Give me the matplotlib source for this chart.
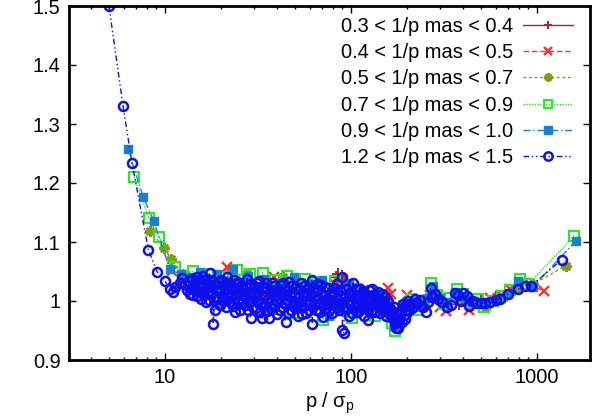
import matplotlib
matplotlib.use("Agg")
import matplotlib.pyplot as plt
from matplotlib.ticker import FixedLocator, FuncFormatter, NullFormatter

plt.rcParams['font.family'] = ['Liberation Sans', 'DejaVu Sans']
plt.rcParams['mathtext.fontset'] = 'custom'
plt.rcParams['mathtext.rm'] = 'Liberation Sans'

# ---- data ----
labels = [
    "0.3 < 1/p mas < 0.4",
    "0.4 < 1/p mas < 0.5",
    "0.5 < 1/p mas < 0.7",
    "0.7 < 1/p mas < 0.9",
    "0.9 < 1/p mas < 1.0",
    "1.2 < 1/p mas < 1.5",
]

darkred_x = [13.8, 15.5, 17.5, 21.0, 26.0, 32.0, 40.0, 50.0, 62.0, 72.0,
             83.0, 85.0, 87.0, 89.5, 93.0, 100.0, 115.0, 140.0, 160.0, 172.0,
             190.0, 230.0, 290.0, 380.0, 500.0, 600.0, 680.0, 780.0]
darkred_y = [1.022, 1.021, 1.005, 1.000, 1.015, 0.995, 1.010, 1.000, 1.012, 0.995,
             1.041, 1.045, 1.030, 1.043, 1.035, 1.010, 1.000, 1.014, 0.990, 0.965,
             0.985, 1.000, 1.005, 0.995, 1.000, 1.007, 1.010, 1.020]

red_x = [10.9, 13.5, 15.0, 16.5, 18.0, 19.8, 21.5, 23.5, 26.0, 29.0,
         32.5, 36.0, 38.5, 43.0, 49.8, 55.0, 62.0, 69.5, 75.0, 82.0,
         86.5, 90.0, 96.0, 105.0, 115.0, 130.0, 145.0, 158.0, 165.0, 170.0,
         180.0, 200.0, 230.0, 265.0, 300.0, 324.0, 380.0, 430.0, 480.0, 560.0,
         640.0, 720.0, 850.0, 1094.0]
red_y = [1.051, 1.019, 1.025, 1.010, 1.030, 1.015, 1.058, 1.020, 1.035, 1.005,
         1.025, 1.000, 1.040, 1.010, 1.030, 1.000, 1.020, 1.019, 0.995, 1.028,
         1.030, 1.025, 1.005, 1.020, 0.990, 1.010, 1.000, 1.022, 1.012, 0.975,
         0.985, 1.010, 0.995, 1.010, 0.990, 0.983, 1.005, 0.985, 1.000, 1.005,
         1.010, 1.020, 1.030, 1.017]

olive_x = [8.3, 9.94, 10.8, 12.5, 14.5, 17.0, 20.0, 23.5, 27.5, 32.0,
           37.0, 43.0, 50.0, 58.0, 67.0, 78.0, 90.0, 105.0, 122.0, 142.0,
           165.0, 175.0, 195.0, 230.0, 270.0, 320.0, 380.0, 450.0, 530.0, 650.0,
           780.0, 950.0, 1432.0]
olive_y = [1.119, 1.089, 1.071, 1.045, 1.030, 1.020, 1.035, 1.010, 1.046, 1.000,
           1.025, 1.040, 0.995, 1.020, 1.000, 1.015, 0.985, 1.005, 0.990, 1.000,
           0.975, 0.960, 0.990, 1.000, 1.020, 0.995, 1.005, 0.995, 0.990, 1.005,
           1.020, 1.028, 1.060]

green_x = [6.84, 8.2, 9.34, 11.4, 12.6, 14.2, 15.5, 17.0, 18.6, 20.5,
           22.6, 24.4, 26.5, 28.7, 31.0, 33.5, 36.3, 39.2, 42.0, 45.5,
           49.0, 53.0, 57.0, 61.5, 66.0, 71.0, 76.0, 82.0, 88.0, 94.0,
           101.0, 108.0, 116.0, 125.0, 134.0, 144.0, 155.0, 166.0, 172.0, 180.0,
           194.0, 210.0, 228.0, 248.0, 268.0, 290.0, 315.0, 340.0, 370.0, 400.0,
           440.0, 480.0, 520.0, 580.0, 650.0, 720.0, 807.0, 900.0, 1585.0]
green_y = [1.210, 1.140, 1.108, 1.057, 1.040, 1.051, 1.030, 1.045, 1.010, 1.040,
           1.020, 1.052, 1.000, 1.045, 1.015, 1.048, 0.990, 1.035, 1.012, 1.042,
           0.980, 1.025, 1.038, 0.995, 1.030, 0.968, 1.015, 1.034, 0.990, 1.025,
           0.972, 1.020, 0.995, 1.015, 0.975, 1.008, 0.990, 0.962, 0.950, 0.970,
           0.992, 1.003, 0.985, 1.000, 1.030, 1.010, 0.995, 1.005, 1.020, 1.012,
           0.998, 1.004, 0.990, 1.000, 1.008, 1.018, 1.037, 1.028, 1.111]

steel_x = [6.32, 7.65, 8.7, 10.6, 12.2, 13.8, 15.5, 17.3, 19.0, 21.0,
           23.2, 25.5, 28.0, 30.8, 34.0, 37.5, 41.0, 45.0, 49.5, 54.0,
           59.0, 64.5, 70.0, 76.5, 83.0, 90.0, 98.0, 106.0, 115.0, 125.0,
           136.0, 148.0, 160.0, 170.0, 182.0, 198.0, 215.0, 235.0, 255.0, 275.0,
           300.0, 330.0, 365.0, 410.0, 460.0, 520.0, 600.0, 700.0, 789.0, 950.0,
           1625.0]
steel_y = [1.258, 1.176, 1.136, 1.055, 1.045, 1.040, 1.050, 1.030, 1.045, 1.015,
           1.055, 1.025, 1.042, 1.005, 1.038, 0.985, 1.030, 1.010, 1.040, 0.990,
           1.028, 1.002, 1.035, 0.975, 1.020, 0.995, 1.030, 0.980, 1.015, 0.990,
           1.010, 0.985, 0.975, 0.958, 0.975, 0.995, 1.000, 0.990, 1.005, 1.025,
           1.005, 0.998, 1.015, 1.005, 1.000, 0.995, 1.002, 1.012, 1.034, 1.024,
           1.102]

blue_x = [5.0, 5.95, 6.65, 8.15, 9.1, 10.0, 10.6, 11.0, 11.4, 12.0,
          12.3, 12.8, 13.1, 13.5, 13.9, 14.2, 14.6, 14.9, 15.2, 15.6,
          15.9, 16.3, 16.7, 17.0, 17.4, 17.8, 18.2, 18.5, 18.7, 19.1,
          19.5, 19.9, 20.3, 20.8, 21.2, 21.6, 22.0, 22.5, 23.0, 23.4,
          23.9, 24.4, 24.9, 25.3, 25.9, 26.4, 27.0, 27.6, 28.2, 28.9,
          29.5, 30.2, 30.8, 31.5, 32.2, 32.9, 33.3, 34.0, 34.8, 35.5,
          36.4, 36.8, 37.6, 38.4, 39.3, 40.1, 41.0, 41.9, 42.8, 43.7,
          44.5, 45.5, 46.5, 47.5, 48.5, 49.6, 50.7, 51.8, 52.9, 54.1,
          55.3, 56.5, 57.7, 59.0, 60.3, 61.6, 62.0, 63.4, 64.8, 66.2,
          67.7, 69.2, 70.7, 72.2, 73.8, 75.4, 77.1, 78.8, 80.5, 82.3,
          84.1, 86.0, 87.9, 89.8, 90.0, 91.6, 92.0, 94.0, 96.1, 98.2,
          100.4, 102.6, 104.9, 107.2, 109.6, 112.0, 114.5, 117.0, 119.6, 122.3,
          123.0, 125.0, 127.8, 130.6, 133.5, 136.5, 139.5, 142.6, 145.8, 149.0,
          152.3, 155.7, 159.1, 162.6, 166.2, 170.0, 173.7, 175.0, 177.6, 179.0,
          181.5, 185.5, 189.6, 195.0, 199.0, 204.0, 209.0, 214.0, 220.0, 226.0,
          235.0, 243.0, 252.0, 260.0, 270.0, 274.0, 282.0, 295.0, 310.0, 327.0,
          345.0, 361.0, 375.0, 390.0, 403.0, 420.0, 432.0, 450.0, 470.0, 500.0,
          523.0, 560.0, 600.0, 631.0, 700.0, 789.0, 860.0, 934.0, 1362.0]
blue_y = [1.500, 1.331, 1.234, 1.087, 1.049, 1.034, 1.020, 1.016, 1.024, 1.031,
          1.039, 1.028, 1.018, 1.034, 1.022, 1.010, 1.030, 1.041, 1.016, 1.004,
          1.026, 1.035, 0.998, 1.012, 1.047, 1.024, 0.961, 1.006, 0.985, 1.019,
          1.032, 0.994, 1.008, 1.027, 0.990, 1.041, 1.015, 0.998, 1.022, 1.036,
          0.982, 1.010, 1.030, 0.985, 1.004, 1.020, 0.993, 1.038, 1.012, 0.972,
          1.000, 1.026, 0.988, 1.015, 1.034, 0.996, 0.971, 1.008, 1.022, 0.983,
          0.972, 1.012, 1.030, 0.995, 1.018, 0.978, 1.004, 1.027, 0.990, 1.012,
          0.965, 1.001, 1.033, 0.985, 1.016, 0.998, 1.024, 0.975, 1.008, 1.030,
          0.990, 1.014, 0.980, 1.021, 0.997, 1.035, 0.961, 1.006, 0.985, 1.018,
          0.995, 1.027, 0.973, 1.010, 0.988, 1.022, 1.002, 0.979, 1.016, 0.995,
          1.028, 0.984, 1.008, 1.040, 0.951, 0.946, 0.990, 1.020, 0.998, 0.975,
          1.012, 1.030, 0.990, 1.008, 0.982, 1.020, 1.000, 0.975, 1.012, 0.993,
          0.968, 1.018, 1.003, 0.985, 1.010, 0.996, 1.015, 0.988, 1.002, 0.992,
          1.006, 0.985, 0.998, 0.980, 0.972, 0.990, 0.966, 0.955, 0.972, 0.954,
          0.968, 0.984, 0.995, 0.970, 0.985, 1.000, 0.992, 0.988, 1.004, 0.996,
          1.002, 0.990, 0.982, 0.998, 1.022, 1.007, 1.012, 1.003, 0.998, 0.990,
          0.993, 1.013, 1.011, 1.000, 1.013, 1.008, 0.992, 1.000, 0.997, 0.996,
          0.997, 0.999, 1.002, 1.003, 1.012, 1.020, 1.025, 1.026, 1.070]

# more points of the same bin inside the dense cloud
blue_extra_x = [13.3, 13.7, 14.0, 14.4, 14.8, 15.4, 15.8, 16.1, 16.5, 16.9,
                17.2, 17.6, 18.0, 18.9, 19.3, 19.7, 20.1, 20.6, 21.0, 21.4,
                21.8, 22.3, 22.8, 23.2, 23.7, 24.1, 24.6, 25.1, 25.6, 26.1,
                26.7, 27.3, 27.9, 28.5, 29.2, 29.8, 30.5, 31.1, 31.8, 32.5,
                33.6, 34.4, 35.1, 35.9, 37.2, 38.0, 38.8, 39.7, 40.5, 41.4,
                42.3, 43.2, 44.1, 45.0, 46.0, 47.0, 48.0, 49.0, 50.1, 51.2,
                52.3, 53.5, 54.7, 55.9, 57.1, 58.3, 59.6, 61.0, 62.7, 64.1,
                65.5, 66.9, 68.4, 69.9, 71.4, 73.0, 74.6, 76.2, 77.9, 79.6,
                81.4, 83.2, 85.0, 86.9, 88.8, 93.0, 95.0, 97.1, 99.3, 101.5,
                103.7, 106.0, 108.4, 110.8, 113.2, 115.7, 118.3, 121.0, 124.0, 126.4,
                129.2, 132.0, 135.0, 138.0, 141.0, 144.2, 147.4, 150.6, 154.0, 157.4,
                161.0, 164.4, 168.0, 171.8, 183.5, 187.5, 192.0, 197.0, 201.5, 206.5]
blue_extra_y = [1.026, 1.012, 1.038, 1.020, 1.008, 1.028, 1.015, 1.042, 1.020, 1.030,
                1.002, 1.036, 1.014, 1.028, 1.004, 1.020, 1.036, 1.000, 1.018, 1.030,
                1.006, 1.028, 1.010, 0.992, 1.020, 1.030, 1.000, 1.016, 1.026, 0.996,
                1.010, 1.024, 0.984, 1.028, 1.008, 0.990, 1.014, 1.030, 1.000, 0.982,
                1.024, 0.994, 1.030, 1.004, 0.988, 1.016, 1.025, 1.002, 1.020, 0.985,
                1.010, 1.030, 0.995, 1.018, 0.980, 1.010, 1.025, 0.992, 1.008, 0.990,
                1.020, 0.998, 0.978, 1.025, 1.000, 1.010, 0.985, 1.012, 1.020, 0.995,
                1.028, 1.005, 0.982, 1.012, 0.994, 1.024, 1.000, 0.985, 1.014, 0.995,
                1.022, 1.004, 0.990, 1.018, 0.998, 1.006, 0.988, 1.014, 0.995, 0.980,
                1.005, 1.020, 0.995, 1.010, 0.990, 1.015, 0.988, 1.005, 0.985, 1.008,
                1.020, 0.995, 0.982, 1.005, 1.000, 0.980, 1.012, 0.996, 0.975, 1.000,
                0.990, 0.985, 0.976, 0.962, 0.978, 0.965, 0.990, 0.978, 0.995, 0.985]

xticks = [10, 100, 1000]
yticks = [0.9, 1.0, 1.1, 1.2, 1.3, 1.4, 1.5]

# merge the blue bin and keep it in x order (gnuplot joins points in file order)
blue_pts = sorted(zip(blue_x + blue_extra_x, blue_y + blue_extra_y))
blue_all_x = [p[0] for p in blue_pts]
blue_all_y = [p[1] for p in blue_pts]

# ---- styles (gnuplot-like) ----
styles = [
    dict(color="#a02828", marker="+", ms=9, mew=1.4, ls="-"),
    dict(color="#ff3030", marker="x", ms=6.5, mew=1.7, ls=(0, (4, 2))),
    dict(color="#7f9f10", marker=(8, 2, 0), ms=7.5, mew=1.8, ls=(0, (2, 2))),
    dict(color="#22ee22", marker="s", ms=7, mew=1.5, mfc="none", ls=(0, (1, 1))),
    dict(color="#1a80d0", marker="s", ms=6, mew=1.0, ls=(0, (5, 2, 1, 2))),
    dict(color="#1010ee", marker="o", ms=6.5, mew=1.8, mfc="none", ls=(0, (4, 2, 1, 2, 1, 2))),
]
series = [(darkred_x, darkred_y), (red_x, red_y), (olive_x, olive_y),
          (green_x, green_y), (steel_x, steel_y), (blue_all_x, blue_all_y)]

fig = plt.figure(figsize=(5.98, 4.16), dpi=100)
ax = fig.add_axes([69 / 598, 1 - 360 / 416, 521 / 598, 354 / 416])

for (xs, ys), st, lab in zip(series, styles, labels):
    ax.plot(xs, ys, lw=1.0, label=lab, **st)

ax.set_xscale("log")
ax.set_xlim(3.05, 1930)
ax.set_ylim(0.9, 1.5)

ax.xaxis.set_major_locator(FixedLocator(xticks))
ax.xaxis.set_major_formatter(FuncFormatter(lambda v, p: "%g" % v))
minors = [m * d for d in (1, 10, 100, 1000) for m in range(2, 10)]
ax.xaxis.set_minor_locator(FixedLocator(minors))
ax.xaxis.set_minor_formatter(NullFormatter())
ax.yaxis.set_major_locator(FixedLocator(yticks))
ax.yaxis.set_major_formatter(FuncFormatter(lambda v, p: "%g" % round(v, 2)))

ax.tick_params(which="both", direction="in", top=True, right=True,
               labelsize=14.4, width=1.0, color="black")
ax.tick_params(which="major", length=5, pad=6)
ax.tick_params(which="minor", length=2.5)
for sp in ax.spines.values():
    sp.set_linewidth(2.0)

ax.set_xlabel("p / σ$_\\mathrm{p}$", fontsize=14.4, labelpad=2)

leg = ax.legend(loc="upper right", bbox_to_anchor=(573 / 598, 1 - 17 / 416),
                bbox_transform=fig.transFigure, frameon=False, markerfirst=False,
                fontsize=14.4, handlelength=2.5, handletextpad=0.5,
                labelspacing=0.36, borderpad=0, borderaxespad=0)
for lh in leg.get_lines():
    lh.set_markersize(6)

fig.savefig("out.png", dpi=100)
